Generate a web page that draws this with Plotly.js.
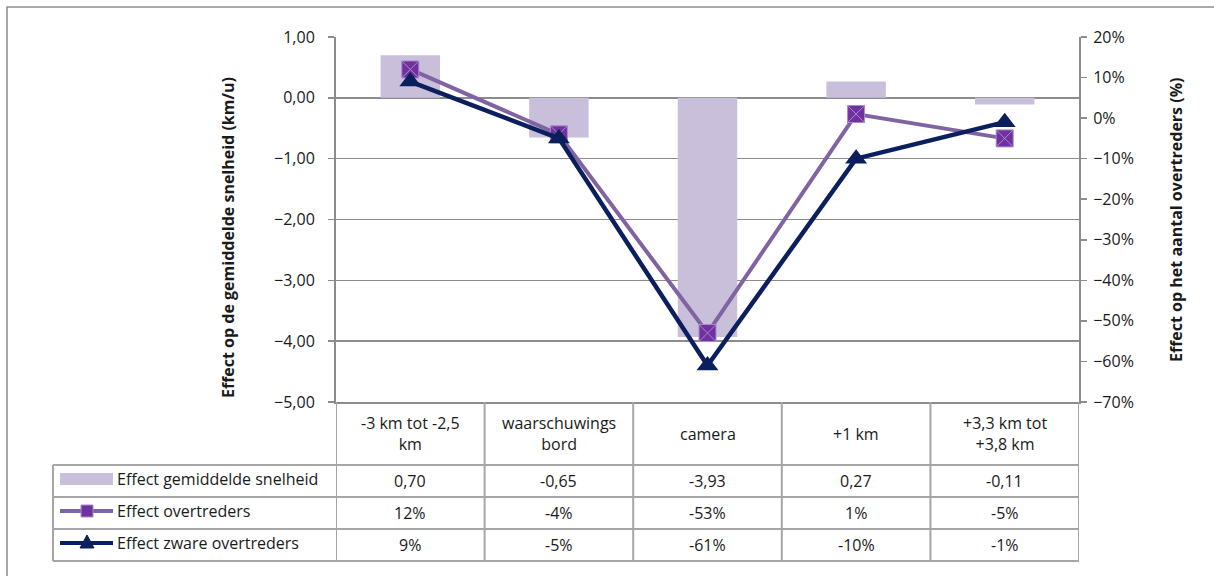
<!DOCTYPE html>
<html>
<head>
<meta charset="utf-8">
<script src="https://cdn.plot.ly/plotly-3.0.1.min.js"></script>
<style>
  html, body { margin: 0; padding: 0; background: #ffffff; }
  #chart { width: 1214px; height: 576px; }
</style>
</head>
<body>
<div id="chart"></div>
<script>
// ---- data ----
const categories = ["-3 km tot -2,5<br>km", "waarschuwings<br>bord", "camera", "+1 km", "+3,3 km tot<br>+3,8 km"];
const seriesNames = ["Effect gemiddelde snelheid", "Effect overtreders", "Effect zware overtreders"];
const speedEffect = [0.70, -0.65, -3.93, 0.27, -0.11];
const offendersEffect = [0.12, -0.04, -0.53, 0.01, -0.05];
const heavyOffendersEffect = [0.09, -0.05, -0.61, -0.10, -0.01];
const leftTitle = "Effect op de gemiddelde snelheid (km/u)";
const rightTitle = "Effect op het aantal overtreders (%)";

// ---- styling ----
const FONT = "'Open Sans', Lato, sans-serif";
const TXT = "#1a1a1a";
const GRID = "#8c8c8c";
const TABLE = "#a6a6a6";
const BAR = "#c9bfdb";
const PURPLE_LINE = "#8064a2";
const PURPLE_MARK = "#7030a0";
const NAVY = "#0b1f5e";
const FS = 16;

const W = 1214, H = 576;
const ML = 336, MR = 135, MT = 37, MB = 174;
const PW = W - ML - MR, PH = H - MT - MB;
const px = x => (x - ML) / PW;          // pixel x -> paper x
const py = y => (H - MB - y) / PH;      // pixel y -> paper y

const xIdx = categories.map((_, i) => i);

const fmtSpeed = v => v.toFixed(2).replace('.', ',');
const fmtPct = v => Math.round(v * 100) + '%';

const traces = [
  {
    type: 'bar', x: xIdx, y: speedEffect, name: seriesNames[0],
    marker: {color: BAR}, width: 0.4, yaxis: 'y', hoverinfo: 'skip'
  },
  {
    type: 'scatter', mode: 'lines+markers', x: xIdx, y: offendersEffect, name: seriesNames[1],
    yaxis: 'y2', line: {color: PURPLE_LINE, width: 4},
    marker: {symbol: 'square-x', size: 17, color: PURPLE_MARK, line: {color: '#a98bc9', width: 1}}
  },
  {
    type: 'scatter', mode: 'lines+markers', x: xIdx, y: heavyOffendersEffect, name: seriesNames[2],
    yaxis: 'y2', line: {color: NAVY, width: 4.5},
    marker: {symbol: 'triangle-up', size: 19, color: NAVY}
  }
];

// ---- data table (shapes + annotations) ----
const shapes = [];
const annotations = [];
const rowsY = [402, 465, 497, 529, 561];
const legendLeft = 53;

// outer chart border
shapes.push({type: 'rect', xref: 'paper', yref: 'paper', x0: px(7), x1: px(1230), y0: py(7), y1: py(600),
  line: {color: GRID, width: 1.5}, fillcolor: 'rgba(0,0,0,0)', layer: 'below'});

// vertical category boundaries in table
for (let i = 0; i <= categories.length; i++) {
  shapes.push({type: 'line', xref: 'x', yref: 'paper', x0: i - 0.5, x1: i - 0.5,
    y0: py(402), y1: py(561), line: {color: TABLE, width: 2}});
}
// horizontal rows
for (let r = 1; r < rowsY.length; r++) {
  shapes.push({type: 'line', xref: 'paper', yref: 'paper', x0: px(legendLeft), x1: 1,
    y0: py(rowsY[r]), y1: py(rowsY[r]), line: {color: TABLE, width: 2}});
}
// legend column left edge
shapes.push({type: 'line', xref: 'paper', yref: 'paper', x0: px(legendLeft), x1: px(legendLeft),
  y0: py(465), y1: py(561), line: {color: TABLE, width: 2}});

// category headers
categories.forEach((c, i) => {
  annotations.push({xref: 'x', yref: 'paper', x: i, y: py(433.5), text: c, showarrow: false,
    font: {family: FONT, size: FS, color: TXT}, align: 'center', xanchor: 'center', yanchor: 'middle'});
});

// table values
const rowData = [speedEffect.map(fmtSpeed), offendersEffect.map(fmtPct), heavyOffendersEffect.map(fmtPct)];
rowData.forEach((vals, r) => {
  const yc = (rowsY[r + 1] + rowsY[r + 2]) / 2;
  vals.forEach((v, i) => {
    annotations.push({xref: 'x', yref: 'paper', x: i, y: py(yc), text: v, showarrow: false,
      font: {family: FONT, size: FS, color: TXT}, xanchor: 'center', yanchor: 'middle'});
  });
  annotations.push({xref: 'paper', yref: 'paper', x: px(115), y: py(yc - 2), text: seriesNames[r], showarrow: false,
    font: {family: FONT, size: FS, color: TXT}, xanchor: 'left', yanchor: 'middle'});
});

// legend keys
{
  const y1 = (465 + 497) / 2 - 2;
  shapes.push({type: 'rect', xref: 'paper', yref: 'paper', x0: px(60), x1: px(113), y0: py(y1 - 6), y1: py(y1 + 6),
    fillcolor: BAR, line: {width: 0}});
  const y2 = (497 + 529) / 2 - 2;
  shapes.push({type: 'line', xref: 'paper', yref: 'paper', x0: px(60), x1: px(113), y0: py(y2), y1: py(y2),
    line: {color: PURPLE_LINE, width: 4}});
  shapes.push({type: 'rect', xref: 'paper', yref: 'paper', x0: px(81), x1: px(93), y0: py(y2 - 6), y1: py(y2 + 6),
    fillcolor: PURPLE_MARK, line: {color: '#a98bc9', width: 1}});
  const y3 = (529 + 561) / 2 - 2;
  shapes.push({type: 'line', xref: 'paper', yref: 'paper', x0: px(60), x1: px(113), y0: py(y3), y1: py(y3),
    line: {color: NAVY, width: 4}});
  const tx0 = px(80), tx1 = px(94), tmx = px(87), ty0 = py(y3 + 5), ty1 = py(y3 - 8);
  shapes.push({type: 'path', xref: 'paper', yref: 'paper',
    path: `M ${tx0} ${ty0} L ${tx1} ${ty0} L ${tmx} ${ty1} Z`, fillcolor: NAVY, line: {color: NAVY, width: 1}});
}

// axis titles
annotations.push({xref: 'paper', yref: 'paper', x: px(228), y: py(238), text: '<b>' + leftTitle + '</b>',
  textangle: -90, showarrow: false, font: {family: FONT, size: 16, color: TXT}, xanchor: 'center', yanchor: 'middle'});
annotations.push({xref: 'paper', yref: 'paper', x: px(1176), y: py(220), text: '<b>' + rightTitle + '</b>',
  textangle: -90, showarrow: false, font: {family: FONT, size: 16, color: TXT}, xanchor: 'center', yanchor: 'middle'});

const layout = {
  width: W, height: H,
  margin: {l: ML, r: MR, t: MT, b: MB, pad: 0},
  paper_bgcolor: '#ffffff', plot_bgcolor: '#ffffff',
  separators: ',.',
  showlegend: false,
  font: {family: FONT, size: FS, color: TXT},
  xaxis: {
    range: [-0.5, 4.5], showticklabels: false, ticks: '', showgrid: false, zeroline: false,
    showline: true, linecolor: GRID, linewidth: 2, fixedrange: true
  },
  yaxis: {
    range: [-5, 1], dtick: 1, tickformat: '.2f', ticks: 'outside', ticklen: 6, tickcolor: GRID, tickwidth: 1.5,
    showgrid: true, gridcolor: GRID, gridwidth: 1.5, zeroline: false,
    showline: true, linecolor: GRID, linewidth: 2, ticklabelstandoff: 10,
    tickfont: {family: FONT, size: 16, color: TXT}
  },
  yaxis2: {
    overlaying: 'y', side: 'right', range: [-0.7, 0.2], dtick: 0.1, tickformat: '.0%',
    ticks: 'outside', ticklen: 6, tickcolor: GRID, tickwidth: 1.5,
    showgrid: false, zeroline: false, showline: true, linecolor: GRID, linewidth: 2,
    ticklabelstandoff: 3,
    tickfont: {family: FONT, size: 16, color: TXT}
  },
  bargap: 0.6,
  shapes: shapes,
  annotations: annotations
};

Plotly.newPlot('chart', traces, layout, {displayModeBar: false, staticPlot: true});
</script>
</body>
</html>
